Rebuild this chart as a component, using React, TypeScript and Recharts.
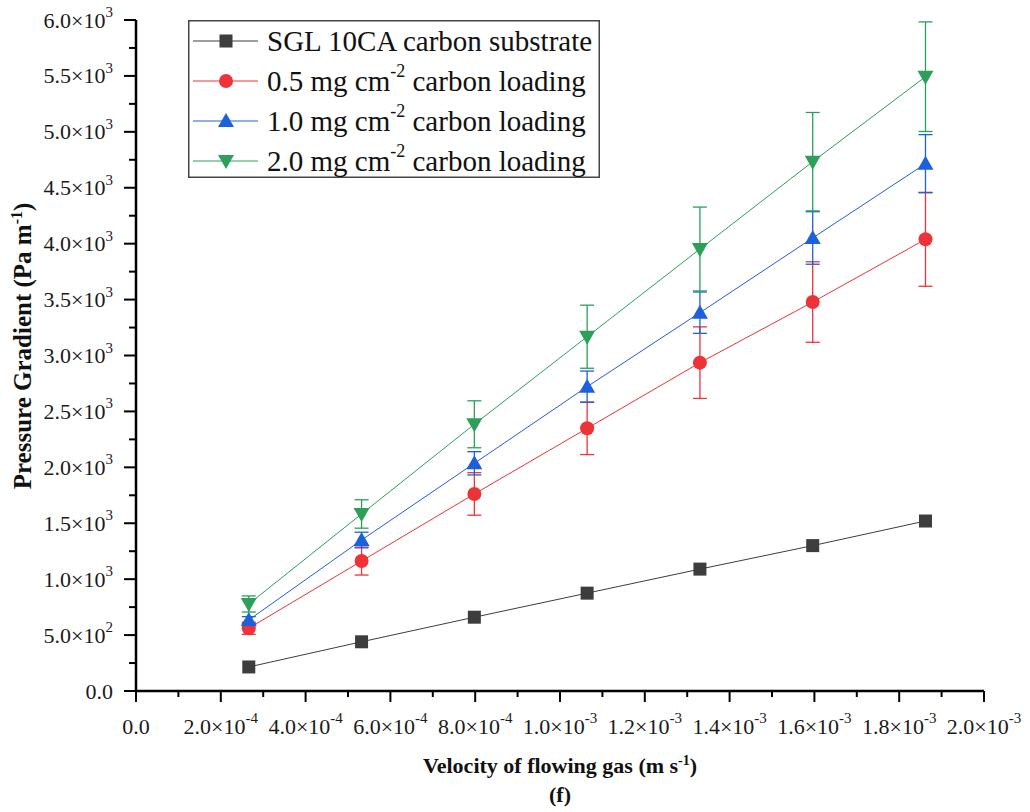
import React from "react";
import { LineChart, Line, XAxis, YAxis, ErrorBar, Legend } from "recharts";

// velocity of flowing gas (m s-1)
const velocity = [2.66e-4, 5.32e-4, 7.98e-4, 1.064e-3, 1.33e-3, 1.596e-3, 1.862e-3];

// pressure gradient (Pa m-1)
const substrate = [215, 440, 660, 875, 1090, 1300, 1520];
const loading05 = [561, 1162, 1762, 2349, 2936, 3478, 4039];
const loading10 = [635, 1350, 2036, 2721, 3383, 4051, 4715];
const loading20 = [778, 1583, 2385, 3168, 3952, 4733, 5493];

// error bars (+/-)
const err05 = [54, 125, 190, 235, 320, 360, 420];
const err10 = [30, 70, 104, 140, 185, 235, 260];
const err20 = [72, 127, 210, 282, 375, 440, 490];

const xTicks = [
    0, 0.0001, 0.0002, 0.0003, 0.0004, 0.0005, 0.0006, 0.0007, 0.0008, 0.0009, 0.001,
    0.0011, 0.0012, 0.0013, 0.0014, 0.0015, 0.0016, 0.0017, 0.0018, 0.0019, 0.002,
];
const yTicks = [
    0, 250, 500, 750, 1000, 1250, 1500, 1750, 2000, 2250, 2500, 2750, 3000,
    3250, 3500, 3750, 4000, 4250, 4500, 4750, 5000, 5250, 5500, 5750, 6000,
];

const legendLabels = [
    { pre: "SGL 10CA carbon substrate", sup: "", post: "" },
    { pre: "0.5 mg cm", sup: "-2", post: " carbon loading" },
    { pre: "1.0 mg cm", sup: "-2", post: " carbon loading" },
    { pre: "2.0 mg cm", sup: "-2", post: " carbon loading" },
];

const FONT = '"Liberation Serif", "Times New Roman", serif';
const PLOT_LEFT = 136;
const PLOT_BOTTOM = 691;

const COLORS = {
    black: "#3d3d3d",
    red: "#ee3338",
    blue: "#1c60dc",
    green: "#2c9f5a",
};

const build = (ys: number[], errs?: number[]) =>
    velocity.map((x, i) => ({ x, y: ys[i], err: errs ? errs[i] : 0 }));

const sci = (v: number) => {
    if (v === 0) return { m: "0.0", e: "" };
    const e = Math.floor(Math.log10(v) + 1e-9);
    return { m: (v / Math.pow(10, e)).toFixed(1), e: String(e) };
};

const Marker = ({ kind, cx, cy, fill }: any) => {
    if (kind === "square")
        return <rect x={cx - 6.5} y={cy - 6.5} width={13} height={13} fill={fill} />;
    if (kind === "circle") return <circle cx={cx} cy={cy} r={7} fill={fill} />;
    if (kind === "up")
        return <polygon points={`${cx},${cy - 8} ${cx - 8},${cy + 6} ${cx + 8},${cy + 6}`} fill={fill} />;
    return <polygon points={`${cx - 8},${cy - 6} ${cx + 8},${cy - 6} ${cx},${cy + 8}`} fill={fill} />;
};

const YTick = (props: any) => {
    const v = props.payload.value;
    const y = props.payload.coordinate ?? props.y;
    const major = v % 500 === 0;
    const { m, e } = sci(v);
    return (
        <g>
            <line x1={PLOT_LEFT} x2={PLOT_LEFT - (major ? 12 : 7)} y1={y} y2={y} stroke="#000" strokeWidth={2} />
            {major && (
                <text x={113} y={y} textAnchor="end" dominantBaseline="central" style={{ fontFamily: FONT }} fontSize={22} fill="#1a1a1a">
                    {e ? `${m}×10` : m}
                    {e && (
                        <tspan fontSize={15} dy={-8}>
                            {e}
                        </tspan>
                    )}
                </text>
            )}
        </g>
    );
};

const XTick = (props: any) => {
    const v = props.payload.value;
    const x = props.payload.coordinate ?? props.x;
    const major = Math.round(v / 0.0001) % 2 === 0;
    const { m, e } = sci(v);
    return (
        <g>
            <line x1={x} x2={x} y1={PLOT_BOTTOM} y2={PLOT_BOTTOM + (major ? 11 : 6)} stroke="#000" strokeWidth={2} />
            {major && (
                <text x={x} y={726} textAnchor="middle" dominantBaseline="central" style={{ fontFamily: FONT }} fontSize={22} fill="#1a1a1a">
                    {e ? `${m}×10` : m}
                    {e && (
                        <tspan fontSize={15} dy={-8}>
                            {e}
                        </tspan>
                    )}
                </text>
            )}
        </g>
    );
};

const legendStyle = [
    { kind: "square", color: COLORS.black },
    { kind: "circle", color: COLORS.red },
    { kind: "up", color: COLORS.blue },
    { kind: "down", color: COLORS.green },
];

const LegendBox = () => (
    <svg width={412} height={158} style={{ display: "block" }}>
        <rect x={0.75} y={0.75} width={410.5} height={156.5} fill="#fff" stroke="#444" strokeWidth={1.5} />
        {legendLabels.map((l, i) => {
            const cy = 21 + i * 40;
            const s = legendStyle[i];
            return (
                <g key={i}>
                    <line x1={5} x2={70} y1={cy} y2={cy} stroke={s.color} strokeWidth={1} />
                    <Marker kind={s.kind} cx={38} cy={cy} fill={s.color} />
                    <text x={79} y={cy} dominantBaseline="central" style={{ fontFamily: FONT }} fontSize={29} fill="#111">
                        {l.pre}
                        {l.sup && (
                            <tspan fontSize={18} dy={-10}>
                                {l.sup}
                            </tspan>
                        )}
                        {l.post && <tspan dy={l.sup ? 10 : 0}>{l.post}</tspan>}
                    </text>
                </g>
            );
        })}
    </svg>
);

const XTitle = ({ viewBox }: any) => {
    const cx = viewBox.x + viewBox.width / 2;
    return (
        <g style={{ fontFamily: FONT }} fontWeight="bold" fill="#111">
            <text x={cx} y={773} textAnchor="middle" fontSize={22}>
                Velocity of flowing gas (m s
                <tspan fontSize={14} dy={-8}>-1</tspan>
                <tspan dy={8}>)</tspan>
            </text>
            <text x={cx} y={802} textAnchor="middle" fontSize={22}>
                (f)
            </text>
        </g>
    );
};

const YTitle = () => (
    <text
        x={31}
        y={346}
        transform="rotate(-90, 31, 346)"
        textAnchor="middle"
        style={{ fontFamily: FONT }}
        fontWeight="bold"
        fontSize={25}
        fill="#111"
    >
        Pressure Gradient (Pa m
        <tspan fontSize={16} dy={-9}>-1</tspan>
        <tspan dy={9}>)</tspan>
    </text>
);

const series = [
    { key: "substrate", data: build(substrate), color: COLORS.black, kind: "square", err: false },
    { key: "loading05", data: build(loading05, err05), color: COLORS.red, kind: "circle", err: true },
    { key: "loading10", data: build(loading10, err10), color: COLORS.blue, kind: "up", err: true },
    { key: "loading20", data: build(loading20, err20), color: COLORS.green, kind: "down", err: true },
];

export default function App() {
    return (
        <div style={{ position: "absolute", left: 0, top: 0, background: "#fff" }}>
            <LineChart width={1030} height={812} margin={{ top: 20, right: 46, bottom: 81, left: 0 }}>
                <XAxis
                    type="number"
                    dataKey="x"
                    domain={[0, 0.002]}
                    ticks={xTicks}
                    interval={0}
                    height={40}
                    tickLine={false}
                    axisLine={{ stroke: "#000", strokeWidth: 2.5 }}
                    tick={(p: any) => <XTick {...p} />}
                    label={{ content: (p: any) => <XTitle {...p} /> }}
                />
                <YAxis
                    type="number"
                    domain={[0, 6000]}
                    ticks={yTicks}
                    interval={0}
                    width={136}
                    tickLine={false}
                    axisLine={{ stroke: "#000", strokeWidth: 2.5 }}
                    tick={(p: any) => <YTick {...p} />}
                    label={{ content: () => <YTitle /> }}
                />
                <Legend
                    layout="vertical"
                    align="center"
                    verticalAlign="middle"
                    wrapperStyle={{ left: 188, top: 20, width: 412, height: 158 }}
                    content={() => <LegendBox />}
                />
                {series.map((s) => (
                    <Line
                        key={s.key}
                        data={s.data}
                        dataKey="y"
                        type="linear"
                        stroke={s.color}
                        strokeWidth={1}
                        isAnimationActive={false}
                        dot={(p: any) => <Marker key={`${s.key}-${p.index}`} kind={s.kind} cx={p.cx} cy={p.cy} fill={s.color} />}
                        activeDot={false}
                    >
                        {s.err && (
                            <ErrorBar dataKey="err" direction="y" width={7} stroke={s.color} strokeWidth={1.3} />
                        )}
                    </Line>
                ))}
            </LineChart>
        </div>
    );
}
